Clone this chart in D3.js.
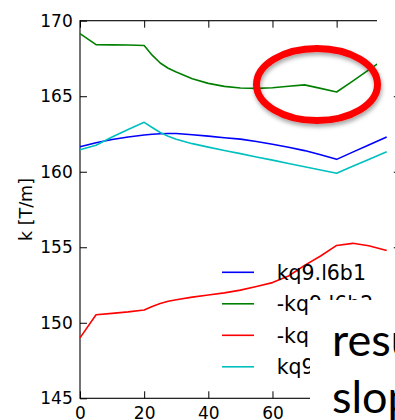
<!DOCTYPE html>
<html>
<head>
<meta charset="utf-8">
<script src="https://cdn.jsdelivr.net/npm/d3@7"></script>
<style>
  html, body { margin: 0; padding: 0; background: #fff; }
  svg { display: block; }
  .tick text { font-family: "DejaVu Sans", sans-serif; font-size: 17px; fill: #000; }
  .tick line { stroke: #000; stroke-width: 1; }
  .domain { display: none; }
</style>
</head>
<body>
<svg id="chart" width="395" height="420"></svg>
<script>
// Longitudinal position along the magnet and gradient values per quadrupole
const positions = [0, 5, 10, 15, 20, 22.5, 25, 27.5, 30, 35, 40, 45, 50, 55, 60, 65, 70, 75, 80, 85, 90, 95.6];
const seriesNames = ["kq9.l6b1", "-kq9.l6b2", "-kq9.l6b3", "kq9.l6b4"];
const kq9_l6b1 = [161.66, 161.92, 162.13, 162.30, 162.43, 162.48, 162.52, 162.53, 162.53, 162.45, 162.36,
                  162.25, 162.16, 162.00, 161.82, 161.62, 161.40, 161.12, 160.82, 161.30, 161.77, 162.30];
const kq9_l6b2 = [169.14, 168.41, 168.40, 168.39, 168.36, 167.72, 167.20, 166.85, 166.60, 166.15, 165.85,
                  165.65, 165.54, 165.52, 165.56, 165.66, 165.75, 165.52, 165.28, 166.00, 166.74, 167.56];
const kq9_l6b3 = [149.00, 150.53, 150.62, 150.72, 150.85, 151.08, 151.28, 151.42, 151.52, 151.70, 151.84,
                  151.98, 152.16, 152.40, 152.66, 153.10, 153.80, 154.42, 155.12, 155.26, 155.10, 154.78];
const kq9_l6b4 = [161.45, 161.75, 162.30, 162.80, 163.27, 162.93, 162.60, 162.35, 162.15, 161.86, 161.63,
                  161.41, 161.20, 160.98, 160.77, 160.55, 160.33, 160.12, 159.90, 160.36, 160.81, 161.32];
const seriesColors = ["#0000ff", "#008000", "#ff0000", "#00bfbf"];
const xTicks = [0, 20, 40, 60, 80, 100];
const yTicks = [145, 150, 155, 160, 165, 170];
const yLabel = "k [T/m]";
const noteLines = ["resu", "slop"];

const svg = d3.select("#chart");
const plotL = 80, plotR = 400.8, plotT = 20.7, plotB = 398.3;

const x = d3.scaleLinear().domain([0, 100]).range([plotL, plotR]);
const y = d3.scaleLinear().domain([145, 170]).range([plotB, plotT]);

// axes with inward ticks on all four sides
svg.append("g").attr("transform", `translate(${plotL},0)`)
  .call(d3.axisLeft(y).tickValues(yTicks).tickFormat(d3.format("d")).tickSize(-7).tickPadding(7.3));
svg.append("g").attr("transform", `translate(${plotR},0)`)
  .call(d3.axisRight(y).tickValues(yTicks).tickFormat("").tickSize(-7));
svg.append("g").attr("transform", `translate(0,${plotB})`)
  .call(d3.axisBottom(x).tickValues(xTicks).tickFormat(d3.format("d")).tickSize(-7).tickPadding(9));
svg.append("g").attr("transform", `translate(0,${plotT})`)
  .call(d3.axisTop(x).tickValues(xTicks).tickFormat("").tickSize(-7));

// plot frame
svg.append("rect")
  .attr("x", plotL).attr("y", plotT)
  .attr("width", plotR - plotL).attr("height", plotB - plotT)
  .attr("fill", "none").attr("stroke", "#000").attr("stroke-width", 1.1);

svg.append("text")
  .attr("transform", `translate(31.5,${(plotT + plotB) / 2}) rotate(-90)`)
  .attr("text-anchor", "middle")
  .attr("font-family", "DejaVu Sans, sans-serif")
  .attr("font-size", 17.5)
  .text(yLabel);

// curves
const allSeries = [kq9_l6b1, kq9_l6b2, kq9_l6b3, kq9_l6b4];
const line = d3.line().x((d, i) => x(positions[i])).y(d => y(d));
allSeries.forEach((vals, k) => {
  svg.append("path")
    .datum(vals)
    .attr("d", line)
    .attr("fill", "none")
    .attr("stroke", seriesColors[k])
    .attr("stroke-width", 1.6)
    .attr("stroke-linejoin", "round");
});

// legend (no frame)
const legend = svg.append("g").attr("transform", "translate(222,272.3)");
seriesNames.forEach((name, k) => {
  const g = legend.append("g").attr("transform", `translate(0,${k * 31.5})`);
  g.append("line").attr("x1", 0).attr("x2", 32).attr("y1", 0).attr("y2", 0)
    .attr("stroke", seriesColors[k]).attr("stroke-width", 1.6);
  g.append("text").attr("x", 54.7).attr("y", 7.3)
    .attr("font-family", "DejaVu Sans, sans-serif").attr("font-size", 20.5)
    .text(name);
});

// overlapping slide elements
svg.append("rect").attr("x", 377).attr("y", 0).attr("width", 20).attr("height", 80).attr("fill", "#fff");
svg.append("rect").attr("x", 310).attr("y", 300).attr("width", 90).attr("height", 125).attr("fill", "#fff");

const defs = svg.append("defs");
const f = defs.append("filter").attr("id", "shadow")
  .attr("x", "-20%").attr("y", "-20%").attr("width", "140%").attr("height", "150%");
f.append("feDropShadow").attr("dx", 1).attr("dy", 3).attr("stdDeviation", 2)
  .attr("flood-color", "#000").attr("flood-opacity", 0.35);

svg.append("ellipse")
  .attr("cx", 317).attr("cy", 84.5).attr("rx", 60.5).attr("ry", 36)
  .attr("fill", "none").attr("stroke", "#ff0000").attr("stroke-width", 7)
  .attr("filter", "url(#shadow)");

const note = svg.append("text")
  .attr("font-family", "Lato, sans-serif").attr("font-size", 45).attr("fill", "#000");
noteLines.forEach((t, i) => {
  note.append("tspan").attr("x", 332).attr("y", 356 + i * 57).text(t);
});
</script>
</body>
</html>
